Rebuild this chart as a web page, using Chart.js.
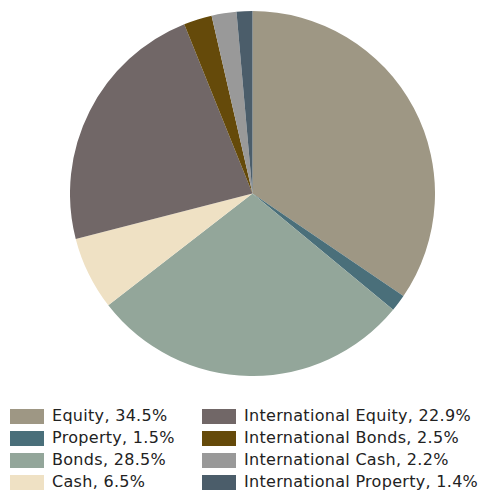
<!DOCTYPE html>
<html>
<head>
<meta charset="utf-8">
<script src="https://cdn.jsdelivr.net/npm/chart.js@4"></script>
<style>
  body { margin: 0; background: #fff; width: 479px; height: 490px; position: relative; overflow: hidden; font-family: "DejaVu Sans", Verdana, sans-serif; }
  #wrap { position: absolute; left: 70px; top: 11px; width: 365px; height: 365px; }
  #legend { position: absolute; left: 10px; top: 406px; }
  .item { position: absolute; height: 22px; white-space: nowrap; font-size: 16px; letter-spacing: 0.3px; color: #222; line-height: 22px; }
  .sw { position: absolute; left: 0; top: 3px; width: 34px; height: 15px; }
  .txt { position: absolute; left: 42px; top: -1px; }
</style>
</head>
<body>
<div id="wrap"><canvas id="pie"></canvas></div>
<div id="legend"></div>
<script>
const labels = ["Equity", "Property", "Bonds", "Cash", "International Equity", "International Bonds", "International Cash", "International Property"];
const values = [34.5, 1.5, 28.5, 6.5, 22.9, 2.5, 2.2, 1.4];
const colors = ["#9e9784", "#4a6f7a", "#93a69a", "#efe1c4", "#716767", "#654a0a", "#999999", "#4b5d6a"];

new Chart(document.getElementById("pie"), {
  type: "pie",
  data: {
    labels: labels,
    datasets: [{
      data: values,
      backgroundColor: colors,
      borderWidth: 0
    }]
  },
  options: {
    responsive: true,
    maintainAspectRatio: false,
    animation: false,
    layout: { padding: 0 },
    plugins: {
      legend: { display: false },
      tooltip: { enabled: false }
    }
  }
});

// two-column legend, four rows each
const legend = document.getElementById("legend");
labels.forEach((name, i) => {
  const col = Math.floor(i / 4);
  const row = i % 4;
  const item = document.createElement("div");
  item.className = "item";
  item.style.left = (col * 192) + "px";
  item.style.top = (row * 22) + "px";
  item.innerHTML = `<span class="sw" style="background:${colors[i]}"></span><span class="txt">${name}, ${values[i].toFixed(1)}%</span>`;
  legend.appendChild(item);
});
</script>
</body>
</html>
